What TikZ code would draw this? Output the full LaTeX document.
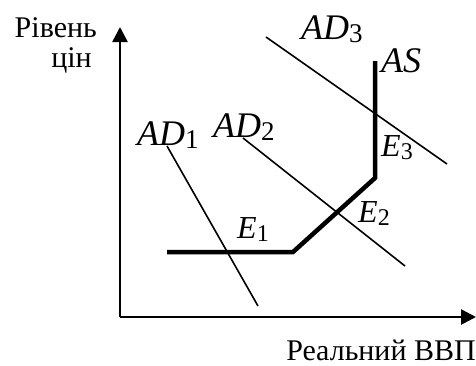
\documentclass[tikz,border=0pt]{standalone}
\usepackage{fontspec}
\setmainfont{Liberation Serif}
\usetikzlibrary{arrows.meta}

\newcommand{\idx}[1]{\raisebox{-0.1em}{\scalebox{0.75}{\upshape #1}}}

\begin{document}
\begin{tikzpicture}[x=1pt, y=-1pt,
    axis/.style = {line width=2.6pt, -{Triangle[length=15pt, width=15pt]}},
    demand/.style = {line width=1.6pt},
    supply/.style = {line width=4.5pt, line join=miter},
    curvelbl/.style = {inner sep=0pt, anchor=base west, font=\fontsize{36}{40}\selectfont\itshape},
    ptlbl/.style = {inner sep=0pt, anchor=base west, font=\fontsize{32}{36}\selectfont\itshape},
    axislbl/.style = {inner sep=0pt, font=\fontsize{30}{34}\selectfont}]
    \useasboundingbox (0,0) rectangle (476,365);

    % осі
    \coordinate (o) at (120,317);
    \coordinate (ytop) at (120,27);
    \coordinate (xend) at (476,317);
    \draw[axis] (o) -- (ytop);
    \draw[axis] (o) -- (xend);
    \node[axislbl, anchor=base east] (price1) at (97,37) {Рівень};
    \node[axislbl, anchor=base east] (price2) at (92,67) {цін};
    \node[axislbl, anchor=base east] (gdp) at (476,360) {Реальний ВВП};

    % пропозиція
    \coordinate (as1) at (167,252);
    \coordinate (as2) at (293,252);
    \coordinate (as3) at (375,178);
    \coordinate (as4) at (375,61);
    \draw[supply] (as1) -- (as2) -- (as3) -- (as4);

    % попит
    \coordinate (ad1a) at (167,146);
    \coordinate (ad1b) at (258,306);
    \coordinate (ad2a) at (243,138);
    \coordinate (ad2b) at (405,266);
    \coordinate (ad3a) at (266,37);
    \coordinate (ad3b) at (447,164);
    \draw[demand] (ad1a) -- (ad1b);
    \draw[demand] (ad2a) -- (ad2b);
    \draw[demand] (ad3a) -- (ad3b);

    % підписи
    \node[curvelbl] (lad1) at (137,145) {AD\idx{1}};
    \node[curvelbl] (lad2) at (213,137) {AD\idx{2}};
    \node[curvelbl] (lad3) at (301,39) {AD\idx{3}};
    \node[curvelbl] (las) at (381,72) {AS};
    \node[ptlbl] (le1) at (237,238) {E\idx{1}};
    \node[ptlbl] (le2) at (358,222) {E\idx{2}};
    \node[ptlbl] (le3) at (381,156) {E\idx{3}};
\end{tikzpicture}
\end{document}
